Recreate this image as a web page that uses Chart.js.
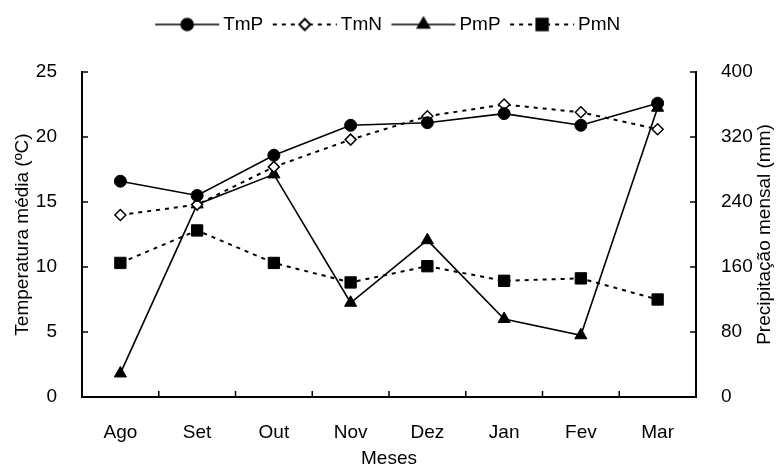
<!DOCTYPE html>
<html>
<head>
<meta charset="utf-8">
<script src="https://cdn.jsdelivr.net/npm/chart.js@4/dist/chart.umd.min.js"></script>
<style>
  html, body { margin: 0; padding: 0; background: #fff; }
  #wrap { width: 777px; height: 470px; position: relative; }
</style>
</head>
<body>
<div id="wrap"><canvas id="chart"></canvas></div>
<script>
const months = ["Ago", "Set", "Out", "Nov", "Dez", "Jan", "Fev", "Mar"];
const tmP = [16.6, 15.5, 18.6, 20.9, 21.1, 21.8, 20.9, 22.6];
const tmN = [14.0, 14.8, 17.7, 19.8, 21.6, 22.5, 21.9, 20.6];
const pmP = [29, 237, 274, 116, 193, 96, 76, 356];
const pmN = [165, 205, 165, 141, 161, 143, 146, 120];
const tempTicks = [0, 5, 10, 15, 20, 25];
const rainTicks = [0, 80, 160, 240, 320, 400];

const FONT = '"Liberation Sans", Arial, sans-serif';
Chart.defaults.font.family = FONT;
Chart.defaults.font.size = 19;
Chart.defaults.color = "#000";

// little line+marker picture for the legend
function legendSample(ds) {
  const c = document.createElement("canvas");
  c.width = 72; c.height = 18;
  const ctx = c.getContext("2d");
  ctx.strokeStyle = "#000";
  ctx.lineWidth = ds.borderWidth;
  ctx.setLineDash(ds.borderDash || []);
  ctx.beginPath();
  ctx.moveTo(6, 9);
  ctx.lineTo(70, 9);
  ctx.stroke();
  ctx.setLineDash([]);
  ctx.fillStyle = ds.pointBackgroundColor;
  ctx.strokeStyle = "#000";
  Chart.helpers.drawPoint(ctx, {
    pointStyle: ds.pointStyle,
    radius: ds.pointRadius,
    borderWidth: ds.pointBorderWidth,
    rotation: 0
  }, 38, 9);
  return c;
}

// push the plot down under the legend
const legendGap = {
  id: "legendGap",
  beforeInit(chart) {
    const fit = chart.legend.fit;
    chart.legend.fit = function () {
      fit.call(this);
      this.height += 28;
    };
  }
};

const innerTicks = {
  id: "innerTicks",
  beforeDatasetsDraw(chart) {
    const ctx = chart.ctx;
    const x = chart.scales.x, y = chart.scales.y, y1 = chart.scales.y1;
    ctx.save();
    ctx.strokeStyle = "#000";
    ctx.lineWidth = 1.5;
    ctx.beginPath();
    for (let i = 0; i < months.length - 1; i++) {
      const px = (x.getPixelForValue(i) + x.getPixelForValue(i + 1)) / 2;
      ctx.moveTo(px, x.top);
      ctx.lineTo(px, x.top - 6);
    }
    tempTicks.forEach(v => {
      const py = y.getPixelForValue(v);
      ctx.moveTo(y.right, py);
      ctx.lineTo(y.right + 6, py);
    });
    rainTicks.forEach(v => {
      const py = y1.getPixelForValue(v);
      ctx.moveTo(y1.left, py);
      ctx.lineTo(y1.left - 6, py);
    });
    ctx.stroke();
    ctx.restore();
  },
  afterDraw(chart) {
    const ctx = chart.ctx;
    const a = chart.chartArea;
    ctx.save();
    ctx.fillStyle = "#000";
    ctx.font = "19px " + FONT;
    ctx.textAlign = "center";
    ctx.textBaseline = "middle";
    ctx.translate(765, (a.top + a.bottom) / 2);
    ctx.rotate(-Math.PI / 2);
    ctx.fillText("Precipitação mensal (mm)", 0, 0);
    ctx.restore();
  }
};

const datasets = [
  {
    label: "TmP", data: tmP, yAxisID: "y",
    borderColor: "#000", borderWidth: 1.6,
    pointStyle: "circle", pointRadius: 6, pointBackgroundColor: "#000", pointBorderWidth: 1
  },
  {
    label: "TmN", data: tmN, yAxisID: "y",
    borderColor: "#000", borderWidth: 2, borderDash: [4, 5],
    pointStyle: "rectRot", pointRadius: 5.5, pointBackgroundColor: "#fff", pointBorderWidth: 1.5
  },
  {
    label: "PmP", data: pmP, yAxisID: "y1",
    borderColor: "#000", borderWidth: 1.6,
    pointStyle: "triangle", pointRadius: 7, pointBackgroundColor: "#000", pointBorderWidth: 1
  },
  {
    label: "PmN", data: pmN, yAxisID: "y1",
    borderColor: "#000", borderWidth: 2, borderDash: [4, 5],
    pointStyle: "rect", pointRadius: 8, pointBackgroundColor: "#000", pointBorderWidth: 1
  }
];
datasets.forEach(d => { d.pointBorderColor = "#000"; d.fill = false; d.tension = 0; });

new Chart(document.getElementById("chart"), {
  type: "line",
  data: { labels: months, datasets: datasets },
  plugins: [legendGap, innerTicks],
  options: {
    responsive: true,
    maintainAspectRatio: false,
    animation: false,
    layout: { padding: { top: 4, left: 0, right: 0, bottom: 0 } },
    plugins: {
      tooltip: { enabled: false },
      legend: {
        position: "top",
        labels: {
          usePointStyle: true,
          pointStyleWidth: 57,
          padding: 11,
          color: "#000",
          font: { size: 19 },
          generateLabels(chart) {
            return chart.data.datasets.map((ds, i) => ({
              text: ds.label,
              pointStyle: legendSample(ds),
              fillStyle: "#000",
              strokeStyle: "#000",
              lineWidth: 0,
              hidden: false,
              datasetIndex: i,
              fontColor: "#000"
            }));
          }
        }
      }
    },
    scales: {
      x: {
        offset: true,
        grid: { display: false },
        border: { display: true, color: "#000", width: 2 },
        ticks: { padding: 16, color: "#000" },
        title: { display: true, text: "Meses", color: "#000", padding: { top: 0, bottom: 0 } },
        afterFit(s) { s.height = 73; }
      },
      y: {
        position: "left",
        min: 0, max: 25,
        afterBuildTicks(s) { s.ticks = tempTicks.map(v => ({ value: v })); },
        grid: { display: false },
        border: { display: true, color: "#000", width: 2 },
        ticks: { padding: 17, color: "#000" },
        title: { display: true, text: "Temperatura média (ºC)", color: "#000", padding: { top: 11, bottom: 0 } },
        afterFit(s) { s.width = 82; }
      },
      y1: {
        position: "right",
        min: 0, max: 400,
        afterBuildTicks(s) { s.ticks = rainTicks.map(v => ({ value: v })); },
        grid: { display: false },
        border: { display: true, color: "#000", width: 2 },
        ticks: { padding: 17, color: "#000" },
        afterFit(s) { s.width = 81; }
      }
    }
  }
});
</script>
</body>
</html>
